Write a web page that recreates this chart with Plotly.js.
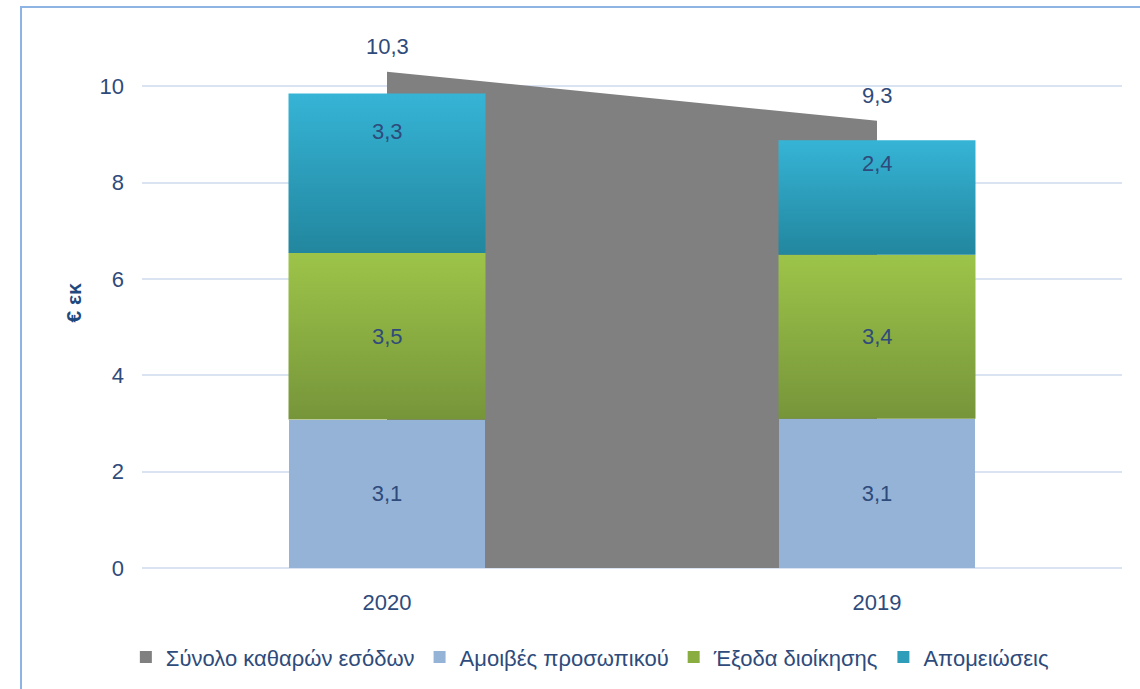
<!DOCTYPE html>
<html>
<head>
<meta charset="utf-8">
<script src="https://cdn.plot.ly/plotly-3.0.1.min.js"></script>
<style>
  html, body { margin: 0; padding: 0; background: #ffffff; overflow: hidden; }
  #chart { position: absolute; left: 0; top: 0; width: 1140px; height: 689px; }
  #frame { position: absolute; left: 20px; top: 6px; width: 1200px; height: 800px;
           border: 2px solid #8DB4E2; pointer-events: none; }
</style>
</head>
<body>
<div id="chart"></div>
<div id="frame"></div>
<script>
// ---- data ----
const years = ['2020', '2019'];
const totalIncome = [10.3, 9.28];      // Σύνολο καθαρών εσόδων
const staffFees = [3.08, 3.10];        // Αμοιβές προσωπικού
const adminCosts = [3.46, 3.40];       // Έξοδα διοίκησης
const impairments = [3.31, 2.38];      // Απομειώσεις
const seriesNames = ['Σύνολο καθαρών εσόδων', 'Αμοιβές προσωπικού', 'Έξοδα διοίκησης', 'Απομειώσεις'];
const yTitle = '€ εκ';

// ---- styles ----
const FONT = 'Liberation Sans, Arial, sans-serif';
const FS = 22;
const TXT = '#2E4B7B';
const HALF = 0.201;                       // half bar width (category units)
const GREEN = { mid: '#8AAD42', top: '#9DC449', bottom: '#76953A' };
const TEAL = { mid: '#2D9DBA', top: '#36B4D6', bottom: '#22869E' };
const tealLabelShift = [-24, -9];
const pos = years.map((_, i) => i);
const fmt = v => v.toFixed(1).replace('.', ',');

const traces = [];
// grey total area (main axes, drawn beneath the bars)
traces.push({
  type: 'scatter', mode: 'lines', x: pos, y: totalIncome, xaxis: 'x', yaxis: 'y',
  fill: 'tozeroy', fillcolor: '#808080', line: { width: 0, color: '#808080' },
  showlegend: false, hoverinfo: 'skip'
});
// legend entries (bars on overlay axes)
traces.push({ type: 'bar', x: pos, y: [null, null], name: seriesNames[0], xaxis: 'x2', yaxis: 'y2',
  marker: { color: '#808080' } });
traces.push({ type: 'bar', x: pos, y: staffFees, name: seriesNames[1], xaxis: 'x2', yaxis: 'y2',
  width: 2 * HALF, marker: { color: '#95B3D7', line: { width: 0 } },
  text: staffFees.map(fmt), textposition: 'inside', insidetextanchor: 'middle',
  textfont: { family: FONT, size: FS, color: TXT }, hoverinfo: 'skip' });
traces.push({ type: 'bar', x: pos, y: [null, null], name: seriesNames[2], xaxis: 'x2', yaxis: 'y2',
  marker: { color: GREEN.mid } });
traces.push({ type: 'bar', x: pos, y: [null, null], name: seriesNames[3], xaxis: 'x2', yaxis: 'y2',
  marker: { color: TEAL.mid } });

// gradient-filled stacked segments for the two upper series
function segment(i, base, value, col) {
  return {
    type: 'scatter', mode: 'lines', xaxis: 'x2', yaxis: 'y2',
    x: [pos[i] - HALF, pos[i] + HALF, pos[i] + HALF, pos[i] - HALF, pos[i] - HALF],
    y: [base, base, base + value, base + value, base],
    fill: 'toself', fillcolor: col.mid, line: { width: 0 },
    fillgradient: { type: 'vertical', colorscale: [[0, col.bottom], [1, col.top]] },
    showlegend: false, hoverinfo: 'skip'
  };
}
pos.forEach((p, i) => {
  traces.push(segment(i, staffFees[i], adminCosts[i], GREEN));
  traces.push(segment(i, staffFees[i] + adminCosts[i], impairments[i], TEAL));
});

const annotations = [];
pos.forEach((p, i) => {
  annotations.push({ x: p, y: totalIncome[i], xref: 'x', yref: 'y', text: fmt(totalIncome[i]),
    showarrow: false, yshift: 25, font: { family: FONT, size: FS, color: TXT } });
  annotations.push({ x: p, y: staffFees[i] + adminCosts[i] / 2, xref: 'x2', yref: 'y2',
    text: fmt(adminCosts[i]), showarrow: false, font: { family: FONT, size: FS, color: TXT } });
  const top = staffFees[i] + adminCosts[i] + impairments[i];
  annotations.push({ x: p, y: top, xref: 'x2', yref: 'y2', text: fmt(impairments[i]),
    showarrow: false, yanchor: 'top', yshift: tealLabelShift[i], font: { family: FONT, size: FS, color: TXT } });
});

const xr = [-0.5, 1.5], yr = [0, 11];
const gridC = '#D9E3F2';
const layout = {
  width: 1140, height: 689,
  margin: { l: 142, r: 18, t: 38, b: 120 },
  paper_bgcolor: '#ffffff', plot_bgcolor: 'rgba(0,0,0,0)',
  separators: ',.',
  barmode: 'stack',
  showlegend: true,
  font: { family: FONT, size: FS, color: TXT },
  xaxis: { range: xr, tickmode: 'array', tickvals: pos, ticktext: years, showgrid: false,
           zeroline: false, showline: false, ticks: '', ticklabelstandoff: 19,
           tickfont: { family: FONT, size: FS, color: TXT }, fixedrange: true },
  xaxis2: { range: xr, overlaying: 'x', visible: false, fixedrange: true },
  yaxis: { range: yr, tickvals: [0, 2, 4, 6, 8, 10], showgrid: true, gridcolor: gridC, gridwidth: 2,
           zeroline: true, zerolinecolor: gridC, zerolinewidth: 2, showline: false, ticks: '',
           ticklabelstandoff: 17, tickfont: { family: FONT, size: FS, color: TXT },
           title: { text: yTitle, standoff: 12, font: { family: FONT, size: 21, color: '#1F497D', weight: 'bold' } },
           fixedrange: true },
  yaxis2: { range: yr, overlaying: 'y', visible: false, fixedrange: true },
  legend: { orientation: 'h', x: 0.457, xanchor: 'center', y: -0.166, yanchor: 'middle',
            traceorder: 'normal', font: { family: FONT, size: FS, color: TXT } },
  annotations: annotations
};
Plotly.newPlot('chart', traces, layout, { displayModeBar: false, staticPlot: true });
</script>
</body>
</html>
